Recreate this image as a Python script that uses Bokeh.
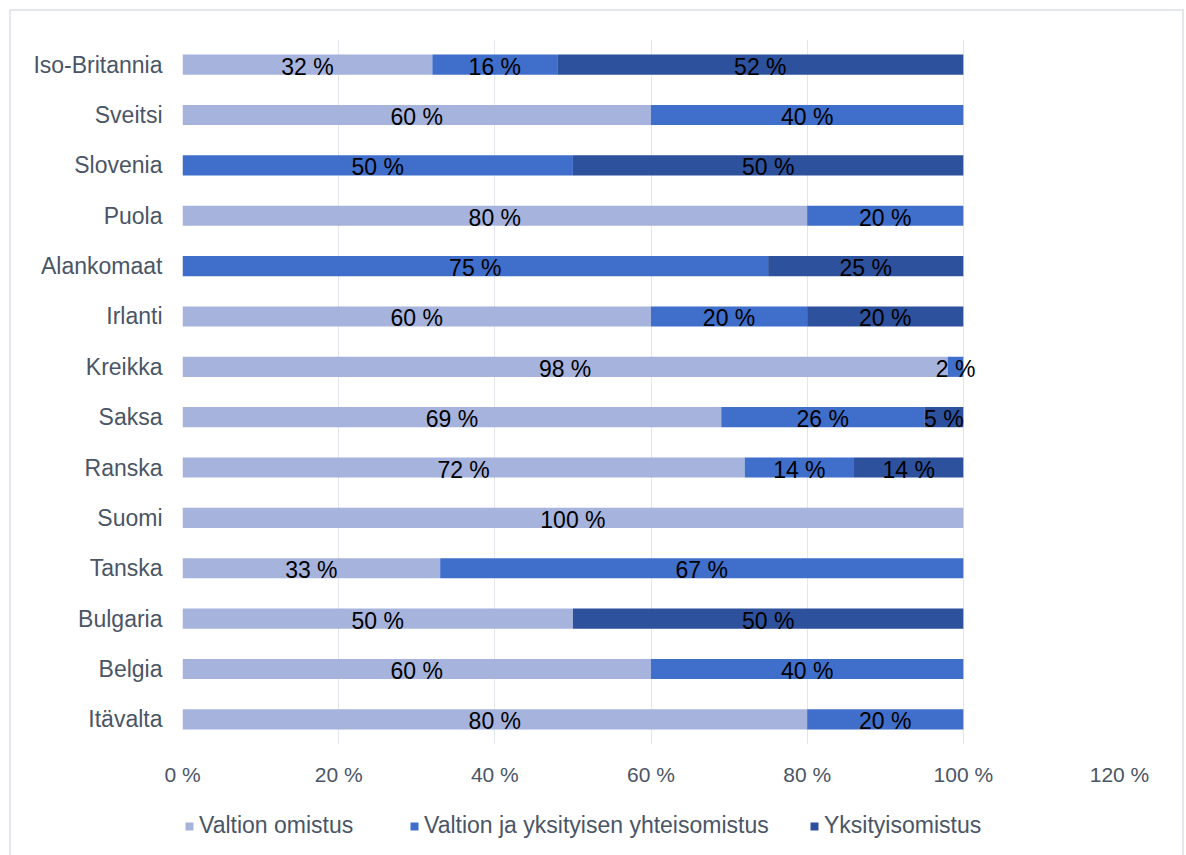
from bokeh.plotting import figure
from bokeh.models import (FactorRange, ColumnDataSource, Legend, LegendItem,
                          FixedTicker, Range1d, Column)
from bokeh.core.properties import value
from bokeh.embed import file_html
from bokeh.resources import INLINE

countries = ["Iso-Britannia", "Sveitsi", "Slovenia", "Puola", "Alankomaat", "Irlanti",
             "Kreikka", "Saksa", "Ranska", "Suomi", "Tanska", "Bulgaria", "Belgia", "Itävalta"]
valtion = [32, 60, 0, 80, 0, 60, 98, 69, 72, 100, 33, 50, 60, 80]
yhteis = [16, 40, 50, 20, 75, 20, 2, 26, 14, 0, 67, 0, 40, 20]
yksityis = [52, 0, 50, 0, 25, 20, 0, 5, 14, 0, 0, 50, 0, 0]
series_names = ["Valtion omistus", "Valtion ja yksityisen yhteisomistus", "Yksityisomistus"]
tick_values = [0, 20, 40, 60, 80, 100, 120]
tick_labels = ["0 %", "20 %", "40 %", "60 %", "80 %", "100 %", "120 %"]

colors = ["#A6B3DD", "#3F6ECB", "#2E519E"]
FONT = "Liberation Sans"
TXT = "#4A5566"

src = ColumnDataSource(dict(country=countries, v=valtion, y=yhteis, k=yksityis))

p = figure(width=1171, height=780, output_backend="svg", toolbar_location=None,
           y_range=FactorRange(factors=list(reversed(countries)), range_padding=0),
           x_range=Range1d(0, 120),
           min_border_left=171, min_border_right=63, min_border_top=28, min_border_bottom=47)
p.outline_line_color = None

renderers = p.hbar_stack(["v", "y", "k"], y="country", height=0.4, color=colors,
                         line_color=None, source=src)

# labels centred in each segment
lx, ly, lt = [], [], []
for c, a, b, d in zip(countries, valtion, yhteis, yksityis):
    start = 0
    for val in (a, b, d):
        if val > 0:
            lx.append(start + val / 2)
            ly.append(c)
            lt.append(f"{val} %")
        start += val
p.text(x=lx, y=ly, text=lt, text_align="center", text_baseline="middle",
       text_font=value(FONT), text_font_size="23px", text_color="#000000", y_offset=2)

p.xaxis.ticker = FixedTicker(ticks=tick_values)
p.xaxis.major_label_overrides = {v: l for v, l in zip(tick_values, tick_labels)}
for ax in (p.xaxis[0], p.yaxis[0]):
    ax.axis_line_color = None
    ax.major_tick_line_color = None
    ax.minor_tick_line_color = None
    ax.major_label_text_font = FONT
    ax.major_label_text_color = TXT
p.xaxis.major_label_text_font_size = "21px"
p.yaxis.major_label_text_font_size = "23px"
p.xaxis.major_label_standoff = 12
p.yaxis.major_label_standoff = 14
p.ygrid.grid_line_color = None
p.xgrid.grid_line_color = "#E3E6EC"
p.xgrid.grid_line_width = 1

# legend figure (its frame is aligned with the main frame by the column)
p2 = figure(width=1171, height=72, output_backend="svg", toolbar_location=None,
            x_range=Range1d(0, 1), y_range=Range1d(0, 1),
            min_border_left=0, min_border_right=0, min_border_top=0, min_border_bottom=0)
p2.axis.visible = False
p2.grid.visible = False
p2.outline_line_color = None
leg_x = [2, 227, 627]
for name, col, lx0 in zip(series_names, colors, leg_x):
    r = p2.vbar(x=[-5], top=[-5], bottom=[-6], width=0.1, color=col, line_color=None)
    lg = Legend(items=[LegendItem(label=name, renderers=[r])],
                orientation="horizontal", location=(lx0, 24),
                label_text_font=FONT, label_text_font_size="23px", label_text_color=TXT,
                glyph_width=10, glyph_height=10, label_standoff=5,
                border_line_color=None, background_fill_alpha=0, padding=0, margin=0)
    p2.add_layout(lg, "center")

layout = Column(p, p2, spacing=0)
layout.styles = {"margin-left": "9px", "margin-top": "9px",
                 "border-left": "2px solid #E4E7EE", "border-top": "2px solid #E4E7EE",
                 "border-right": "2px solid #E4E7EE"}

open("out.html", "w").write(file_html(layout, INLINE))
